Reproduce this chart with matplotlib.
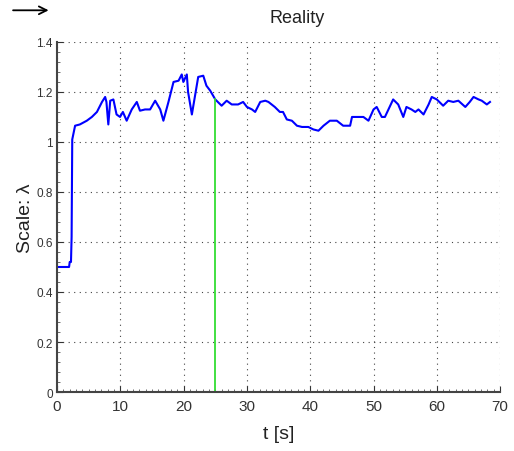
import matplotlib
matplotlib.use("Agg")
import matplotlib.pyplot as plt
import numpy as np

plt.rcParams["font.family"] = ["Liberation Sans", "DejaVu Sans"]

# datos
t = [0, 1.9, 2.0, 2.2, 2.3, 2.4, 2.85, 3.6, 4.7, 5.5, 6.3, 7.1, 7.6, 7.8, 8.1, 8.4, 8.9,
     9.4, 9.95, 10.4, 11.0, 11.8, 12.6, 13.1, 13.9, 14.7, 15.5, 16.3, 16.8, 17.6, 18.4,
     19.2, 19.7, 19.95, 20.5, 20.7, 21.3, 21.8, 22.3, 23.1, 23.6, 24.2, 25.0, 26.0, 26.8,
     27.6, 28.6, 29.4, 30.0, 30.8, 31.3, 32.1, 32.9, 33.4, 34.4, 35.2, 35.7, 36.3, 37.1,
     37.9, 38.7, 39.7, 40.5, 41.3, 42.1, 43.1, 44.2, 45.2, 46.3, 46.6, 47.6, 48.4, 49.2,
     50.0, 50.5, 51.3, 51.8, 53.1, 53.9, 54.7, 55.2, 56.0, 56.6, 57.1, 57.9, 58.7, 59.2,
     60.0, 61.0, 61.8, 62.6, 63.4, 64.5, 65.2, 65.8, 66.6, 67.1, 67.9, 68.4]
escala = [0.5, 0.5, 0.52, 0.52, 0.62, 1.01, 1.065, 1.07, 1.085, 1.10, 1.12, 1.16, 1.18, 1.16,
          1.07, 1.165, 1.17, 1.11, 1.10, 1.12, 1.085, 1.13, 1.16, 1.125, 1.13, 1.13, 1.165,
          1.13, 1.085, 1.16, 1.24, 1.245, 1.27, 1.24, 1.27, 1.20, 1.11, 1.185, 1.26, 1.265,
          1.225, 1.205, 1.17, 1.145, 1.165, 1.15, 1.15, 1.16, 1.14, 1.13, 1.12, 1.16, 1.165,
          1.16, 1.14, 1.12, 1.12, 1.09, 1.085, 1.065, 1.06, 1.06, 1.05, 1.045, 1.065, 1.085,
          1.085, 1.065, 1.065, 1.10, 1.10, 1.10, 1.085, 1.13, 1.14, 1.10, 1.10, 1.17, 1.15,
          1.10, 1.14, 1.13, 1.12, 1.13, 1.11, 1.15, 1.18, 1.17, 1.145, 1.165, 1.16, 1.165,
          1.14, 1.16, 1.18, 1.17, 1.165, 1.15, 1.16]
t_actual = 25.0
escala_actual = 1.17

fig = plt.figure(figsize=(5.14, 4.52), dpi=100)
ax = fig.add_axes([0.111, 0.1305, 0.862, 0.7745])

ax.plot(t, escala, color="#0000ff", lw=1.5)
ax.plot([t_actual, t_actual], [0, escala_actual], color="#33dd33", lw=1.3)

ax.set_xlim(0, 70)
ax.set_ylim(0, 1.4)
ax.set_xticks(np.arange(0, 71, 10))
ax.set_yticks([0, 0.2, 0.4, 0.6, 0.8, 1.0, 1.2, 1.4])
ax.set_yticklabels(["0", "0.2", "0.4", "0.6", "0.8", "1", "1.2", "1.4"])
ax.tick_params(axis="x", labelsize=11, direction="in", length=4, colors="#333333", pad=5)
ax.tick_params(axis="y", labelsize=8.5, direction="in", length=4, colors="#333333", pad=3)
ax.set_xticks(np.arange(0, 70.1, 1), minor=True)
ax.set_yticks(np.arange(0, 1.401, 0.04), minor=True)
ax.tick_params(which="minor", direction="in", length=2, color="#555555")

ax.grid(True, color="#444444", linestyle=(0, (1, 4)), lw=0.8)
ax.spines["top"].set_visible(False)
ax.spines["right"].set_visible(False)
ax.spines["left"].set_color("#444444")
ax.spines["bottom"].set_color("#444444")
ax.spines["left"].set_linewidth(1.5)
ax.spines["bottom"].set_linewidth(1.5)

ax.set_xlabel("t [s]", fontsize=14, color="#222222", labelpad=9)
ax.set_ylabel("Scale: λ", fontsize=14, color="#222222", labelpad=2)
fig.text(0.578, 0.958, "Reality", fontsize=13, ha="center", va="center", color="#222222")
ax.annotate("", xy=(0.1, 0.975), xytext=(0.02, 0.975), xycoords="figure fraction",
            textcoords="figure fraction", annotation_clip=False,
            arrowprops=dict(arrowstyle="->", color="black", lw=1.3, mutation_scale=14))

fig.savefig("out.png", dpi=100)
